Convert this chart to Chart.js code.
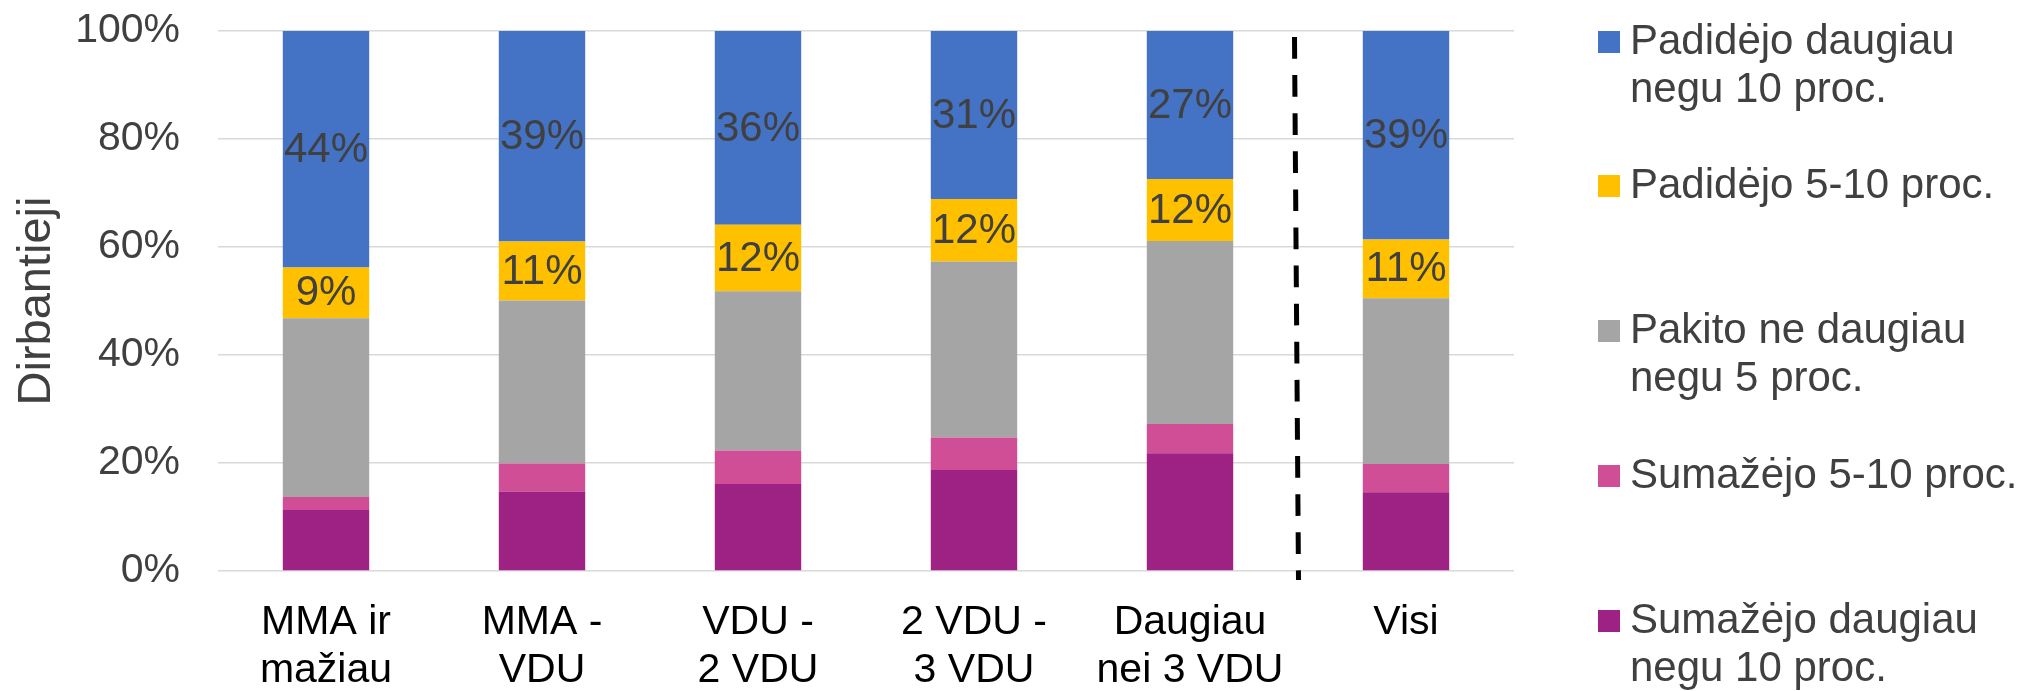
<!DOCTYPE html>
<html>
<head>
<meta charset="utf-8">
<script src="https://cdn.jsdelivr.net/npm/chart.js@4.4.1/dist/chart.umd.min.js"></script>
<style>
  html, body { margin: 0; padding: 0; background: #fff; }
  #wrap { position: relative; width: 2026px; height: 691px; overflow: hidden; }
  #wrap canvas { position: absolute; left: 0; top: 0; }
  .lg-sq { position: absolute; width: 22px; height: 22px; }
  .lg-tx { position: absolute; font-family: "Liberation Sans", Arial, sans-serif; font-size: 42px; line-height: 48px; color: #404040; white-space: nowrap; }
</style>
</head>
<body>
<div id="wrap"><canvas id="c" width="2026" height="691"></canvas></div>
<script>
// ---- Data ----
const categories = [["MMA ir", "mažiau"], ["MMA -", "VDU"], ["VDU -", "2 VDU"], ["2 VDU -", "3 VDU"], ["Daugiau", "nei 3 VDU"], "Visi"];
const seriesNames = ["Sumažėjo daugiau negu 10 proc.", "Sumažėjo 5-10 proc.", "Pakito ne daugiau negu 5 proc.", "Padidėjo 5-10 proc.", "Padidėjo daugiau negu 10 proc."];
const decreasedMore10 = [11.3, 14.7, 16.1, 18.7, 21.8, 14.6];
const decreased5to10 = [2.4, 5.2, 6.2, 6.0, 5.4, 5.2];
const changedLess5 = [33.1, 30.2, 29.5, 32.6, 33.9, 30.7];
const increased5to10 = [9.4, 10.9, 12.3, 11.6, 11.5, 10.9];
const increasedMore10 = [43.8, 39.0, 35.9, 31.1, 27.4, 38.6];
const yTicks = [0, 20, 40, 60, 80, 100];
const yTitle = "Dirbantieji";
const legendLines = [["Padidėjo daugiau", "negu 10 proc."], ["Padidėjo 5-10 proc."], ["Pakito ne daugiau", "negu 5 proc."], ["Sumažėjo 5-10 proc."], ["Sumažėjo daugiau", "negu 10 proc."]];

const colors = ["#9E2283", "#D04E96", "#A5A5A5", "#FFC000", "#4472C4"];
const seriesValues = [decreasedMore10, decreased5to10, changedLess5, increased5to10, increasedMore10];
const labelledSeries = [3, 4];

Chart.defaults.font.family = '"Liberation Sans", Arial, sans-serif';

const PLOT_LEFT = 218, PLOT_RIGHT = 1514, PLOT_TOP = 31, PLOT_BOTTOM = 571;

const segLabels = {
  id: 'segLabels',
  afterDatasetsDraw(chart) {
    const ctx = chart.ctx;
    ctx.save();
    ctx.font = '42px "Liberation Sans", Arial, sans-serif';
    ctx.fillStyle = '#404040';
    ctx.textAlign = 'center';
    ctx.textBaseline = 'middle';
    labelledSeries.forEach(di => {
      const meta = chart.getDatasetMeta(di);
      meta.data.forEach((bar, i) => {
        const v = chart.data.datasets[di].data[i];
        const cy = (bar.y + bar.base) / 2;
        ctx.fillText(Math.round(v) + '%', bar.x, cy + 1);
      });
    });
    ctx.restore();
  }
};

const divider = {
  id: 'divider',
  afterDatasetsDraw(chart) {
    const x = chart.scales.x, y = chart.scales.y;
    const mid = (x.getPixelForValue(4) + x.getPixelForValue(5)) / 2;
    const ctx = chart.ctx;
    ctx.save();
    ctx.strokeStyle = '#000';
    ctx.lineWidth = 5;
    ctx.setLineDash([21.7, 16.4]);
    ctx.beginPath();
    ctx.moveTo(mid - 3.5, y.getPixelForValue(100) + 6);
    ctx.lineTo(mid + 0.5, y.getPixelForValue(0) + 9);
    ctx.stroke();
    ctx.restore();
  }
};

new Chart(document.getElementById('c'), {
  type: 'bar',
  data: {
    labels: categories,
    datasets: seriesValues.map((vals, i) => ({
      label: seriesNames[i],
      data: vals,
      backgroundColor: colors[i],
      borderWidth: 0,
      categoryPercentage: 1.0,
      barPercentage: 0.4
    }))
  },
  options: {
    responsive: false,
    animation: false,
    layout: { padding: { top: PLOT_TOP, right: 2026 - PLOT_RIGHT, bottom: 0, left: 0 } },
    plugins: { legend: { display: false }, tooltip: { enabled: false } },
    scales: {
      x: {
        stacked: true,
        grid: { display: false, drawTicks: false },
        border: { display: false },
        ticks: { color: '#000', font: { size: 41, lineHeight: 1.17 }, padding: 28, maxRotation: 0, autoSkip: false },
        afterFit(s) { s.height = 691 - PLOT_BOTTOM; }
      },
      y: {
        stacked: true,
        min: 0, max: 100,
        afterBuildTicks(s) { s.ticks = yTicks.map(v => ({ value: v })); },
        grid: { color: '#D9D9D9', lineWidth: 1.5, drawTicks: true, tickLength: 38, tickColor: 'rgba(0,0,0,0)' },
        border: { display: false },
        ticks: { color: '#404040', font: { size: 41 }, padding: 0, callback: v => v + '%' },
        title: { display: true, text: yTitle, color: '#404040', font: { size: 47 }, padding: { top: 8.5, bottom: 0 } },
        afterFit(s) { s.width = PLOT_LEFT; }
      }
    }
  },
  plugins: [segLabels, divider]
});

// ---- Legend (HTML, real text) ----
const wrap = document.getElementById('wrap');
const sqTops = [31, 175, 320, 465, 610];
const legendOrder = [4, 3, 2, 1, 0];
legendOrder.forEach((si, k) => {
  const sq = document.createElement('div');
  sq.className = 'lg-sq';
  sq.style.left = '1598px';
  sq.style.top = sqTops[k] + 'px';
  sq.style.background = colors[si];
  wrap.appendChild(sq);
  const tx = document.createElement('div');
  tx.className = 'lg-tx';
  tx.style.left = '1630px';
  tx.style.top = (sqTops[k] - 14.6) + 'px';
  legendLines[k].forEach((line, j) => {
    if (j) tx.appendChild(document.createElement('br'));
    tx.appendChild(document.createTextNode(line));
  });
  wrap.appendChild(tx);
});
</script>
</body>
</html>
